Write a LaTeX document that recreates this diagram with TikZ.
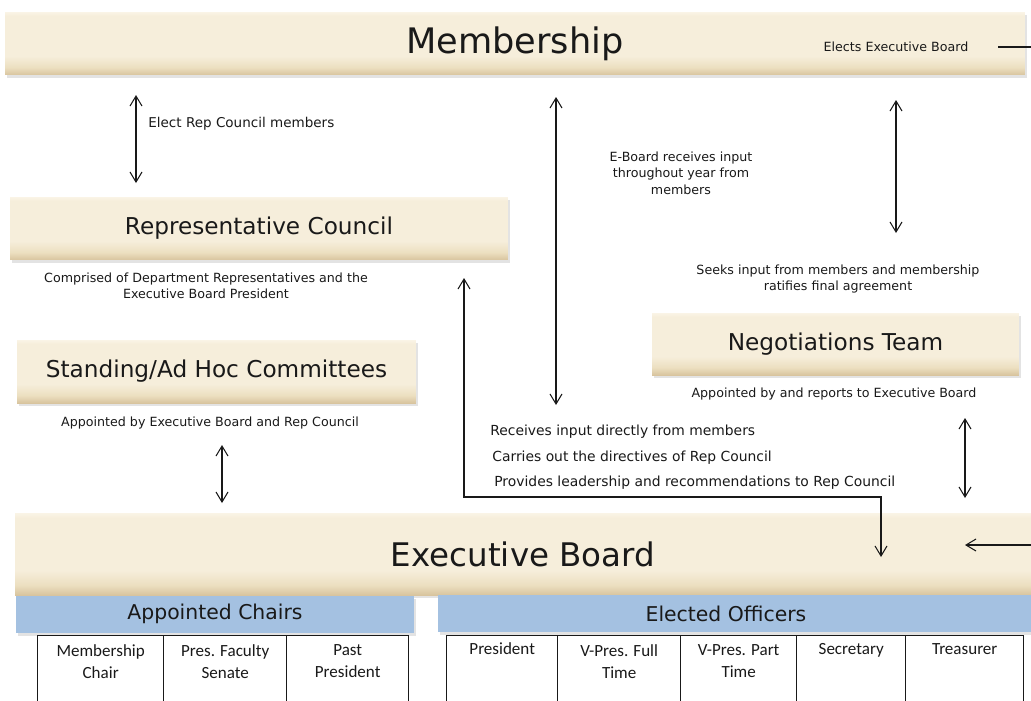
\documentclass[tikz,border=0pt]{standalone}
\usepackage{fontspec}
\setmainfont{DejaVu Sans}
\newfontfamily\cellfont{Carlito}
\usetikzlibrary{arrows.meta,shadows}
\definecolor{btop}{RGB}{250,244,230}
\definecolor{bmid}{RGB}{246,238,219}
\definecolor{bmid2}{RGB}{236,223,192}
\definecolor{bbot}{RGB}{216,196,158}
\definecolor{bluebar}{RGB}{164,193,225}
\definecolor{ink}{RGB}{25,25,25}
\pgfdeclareverticalshading{beige}{100bp}{color(0bp)=(bbot); color(25bp)=(bbot); color(31bp)=(bmid2); color(40bp)=(bmid); color(72bp)=(bmid); color(75bp)=(btop); color(100bp)=(btop)}
\begin{document}
\begin{tikzpicture}[x=0.02cm,y=-0.02cm,
  bar/.style={shading=beige, draw=none, inner sep=0pt, text=ink,
    drop shadow={shadow xshift=1.2pt, shadow yshift=-1.8pt, opacity=0.22}},
  bluebox/.style={fill=bluebar, draw=none, inner sep=0pt, text=ink,
    drop shadow={shadow xshift=1.2pt, shadow yshift=-1.8pt, opacity=0.22}},
  midtitle/.style={font=\fontsize{13.2}{16}\selectfont},
  bluetext/.style={font=\fontsize{11.6}{13}\selectfont, text=ink},
  cell/.style={draw=ink, line width=0.8pt, fill=white, inner sep=0pt, minimum height=1.8cm, anchor=north west},
  celltext/.style={anchor=north, align=center, inner sep=0pt, yshift=-5.1pt, text=ink,
    font=\cellfont\fontsize{9.7}{12.5}\selectfont, execute at begin node=\strut},
  celltextone/.style={celltext, yshift=2.8pt},
  ann/.style={font=\fontsize{7.2}{9.4}\selectfont, align=center, inner sep=0pt, text=ink},
  annbig/.style={ann, font=\fontsize{7.9}{9.4}\selectfont},
  conn/.style={draw=ink, line width=0.6pt},
  tip/.tip={Straight Barb[length=2mm,width=2.4mm,line width=0.6pt]},
  dbl/.style={conn, tip-tip}, one/.style={conn, -tip}
]
\useasboundingbox (0,0) rectangle (1031,700);

% bars
\node[bar, minimum width=20.4cm, minimum height=1.26cm, font=\fontsize{20}{24}\selectfont] (mem) at (515,43.5) {Membership};
\node[ann] (electsEB) at (896,47) {Elects Executive Board};
\node[bar, midtitle, minimum width=9.96cm, minimum height=1.26cm] (rep) at (259,228.5) {Representative Council};
\node[bar, midtitle, minimum width=7.98cm, minimum height=1.26cm] (stand) at (216.5,371.5) {Standing/Ad Hoc Committees};
\node[bar, midtitle, minimum width=7.34cm, minimum height=1.24cm] (neg) at (835.5,344) {Negotiations Team};
\node[bar, minimum width=20.32cm, minimum height=1.64cm, font=\fontsize{18.5}{22}\selectfont] (exec) at (523,554) {Executive Board};

% blue headers
\node[bluebox, bluetext, minimum width=7.96cm, minimum height=0.74cm] (appointed) at (215,614) {Appointed Chairs};
\node[bluebox, minimum width=11.86cm, minimum height=0.74cm,
  label={[bluetext, xshift=-0.17cm]center:Elected Officers}] (elected) at (734.5,613.5) {};

% tables
\node[cell, minimum width=2.52cm, label={[celltext]north:{Membership\\Chair}}] (c1) at (37,635) {};
\node[cell, minimum width=2.46cm, label={[celltext]north:{Pres. Faculty\\Senate}}] (c2) at (163,635) {};
\node[cell, minimum width=2.44cm, label={[celltext]north:{Past\\President}}] (c3) at (286,635) {};
\node[cell, minimum width=2.22cm, label={[celltextone]north:{President}}] (e1) at (446,635) {};
\node[cell, minimum width=2.46cm, label={[celltext]north:{V-Pres. Full\\Time}}] (e2) at (557,635) {};
\node[cell, minimum width=2.32cm, label={[celltext]north:{V-Pres. Part\\Time}}] (e3) at (680,635) {};
\node[cell, minimum width=2.18cm, label={[celltextone]north:{Secretary}}] (e4) at (796,635) {};
\node[cell, minimum width=2.36cm, label={[celltextone]north:{Treasurer}}] (e5) at (905,635) {};

% annotations
\node[ann, font=\fontsize{7.7}{9.4}\selectfont, anchor=west] (t1) at (148,124) {Elect Rep Council members};
\node[ann] (t2) at (681,173) {E-Board receives input\\throughout year from\\members};
\node[ann] (t3) at (838,279) {Seeks input from members and membership\\ratifies final agreement};
\node[ann] (t4) at (206,286) {Comprised of Department Representatives and the\\Executive Board President};
\node[ann] (t5) at (210,423) {Appointed by Executive Board and Rep Council};
\node[ann] (t6) at (834,394) {Appointed by and reports to Executive Board};
\node[annbig, anchor=west] (t7) at (490,432) {Receives input directly from members};
\node[annbig, anchor=west] (t8) at (492,458) {Carries out the directives of Rep Council};
\node[annbig, anchor=west] (t9) at (494,483) {Provides leadership and recommendations to Rep Council};

% connector ends
\coordinate (a1t) at (136,95);  \coordinate (a1b) at (136,183);
\coordinate (a2t) at (556,97);  \coordinate (a2b) at (556,405);
\coordinate (a3t) at (896,100); \coordinate (a3b) at (896,233);
\coordinate (a4t) at (222,445); \coordinate (a4b) at (222,503);
\coordinate (a5t) at (965,418); \coordinate (a5b) at (965,498);
\coordinate (f1) at (464,278);  \coordinate (f2) at (464,497);
\coordinate (f3) at (881,497);  \coordinate (f4) at (881,557);
\coordinate (g0) at (998,47);   \coordinate (g1) at (1031,47);
\coordinate (h0) at (1031,545); \coordinate (h1) at (965,545);

\draw[dbl] (a1t) -- (a1b);
\draw[dbl] (a2t) -- (a2b);
\draw[dbl] (a3t) -- (a3b);
\draw[dbl] (a4t) -- (a4b);
\draw[dbl] (a5t) -- (a5b);
\draw[dbl] (f1) -- (f2) -- (f3) -- (f4);
\draw[conn] (g0) -- (g1);
\draw[one] (h0) -- (h1);
\end{tikzpicture}
\end{document}
